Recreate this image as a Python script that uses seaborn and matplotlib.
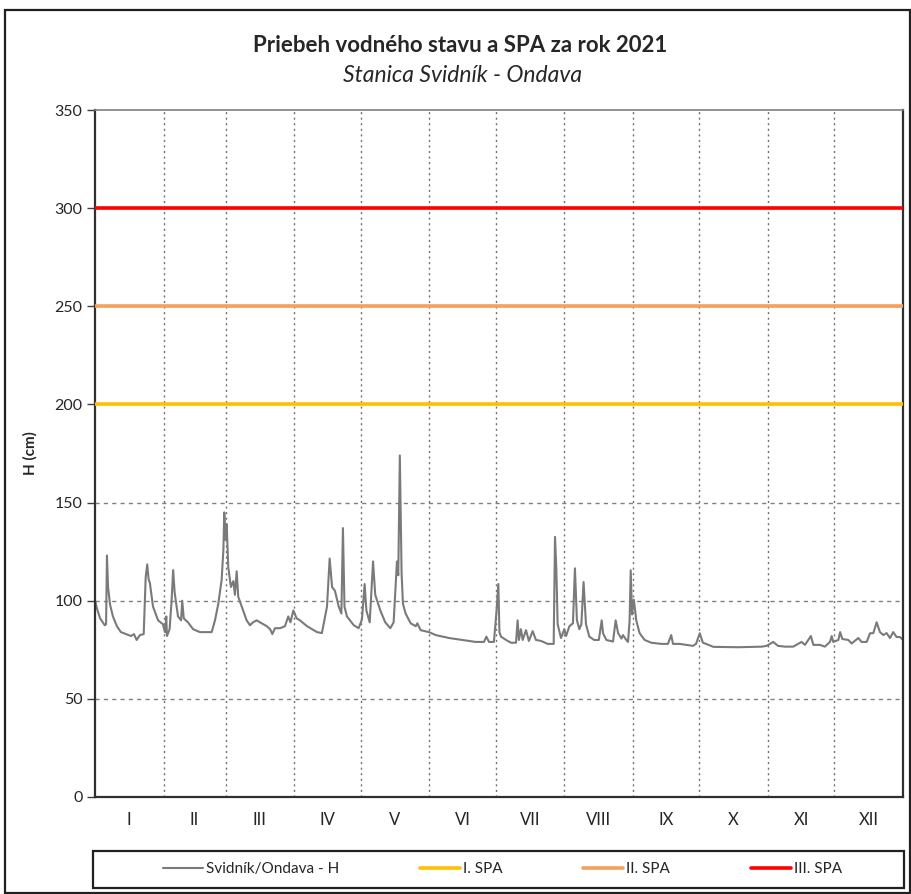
import matplotlib
matplotlib.use("Agg")
import matplotlib.pyplot as plt
import seaborn as sns
import pandas as pd
from matplotlib.patches import Rectangle

# ---- data ----
days = [0, 0.9, 2.3, 4.4, 5.0, 5.4, 5.9, 6.8, 8.1, 9.9, 11.7, 14.0, 16.3, 17.6, 18.8, 20.3,
        22.0, 22.9, 23.6, 24.2, 24.8, 26.2, 28.5, 30.7, 31.6, 32.2, 32.5, 33.7, 34.6, 35.3,
        36.0, 37.5, 38.9, 39.4, 40.1, 42.0, 44.3, 47.4, 52.7, 54.2, 55.7, 57.2, 58.0, 58.4,
        59.0, 59.5, 60.2, 61.4, 62.5, 63.2, 64.0, 64.7, 66.3, 68.5, 70.0, 71.4, 73.0, 75.3,
        77.6, 79.1, 80.1, 81.3, 83.6, 85.8, 87.3, 88.3, 89.6, 91.1, 92.6, 95.8, 100.3, 102.5,
        104.8, 106.0, 107.1, 108.4, 110.1, 111.3, 112.0, 112.7, 113.8, 116.9, 119.1, 120.6,
        121.8, 122.6, 124.1, 125.6, 126.6, 128.9, 131.1, 133.4, 134.9, 136.4, 137.0, 137.7,
        138.5, 139.1, 140.3, 142.6, 144.9, 145.6, 147.1, 150.9, 153.9, 159.9, 165.9, 172.0,
        175.7, 176.8, 178.0, 180.2, 181.3, 182.2, 182.7, 183.4, 185.7, 187.9, 190.2, 190.9,
        191.5, 192.4, 193.2, 194.7, 196.0, 197.7, 199.2, 201.5, 204.5, 207.2, 207.8, 208.4,
        209.0, 210.5, 212.0, 212.8, 214.3, 215.9, 216.8, 217.7, 218.8, 219.7, 220.7, 221.8,
        223.3, 225.5, 227.6, 228.9, 229.5, 231.0, 234.0, 235.2, 236.3, 237.8, 238.5, 240.0,
        240.8, 241.5, 242.0, 242.6, 243.4, 243.9, 244.5, 246.0, 248.3, 251.3, 255.8, 258.8,
        260.3, 261.1, 264.1, 270.1, 271.5, 273.2, 274.6, 275.6, 279.3, 290.6, 301.2, 303.4,
        306.4, 308.5, 311.7, 315.4, 319.2, 320.7, 323.4, 324.5, 327.5, 329.7, 332.0, 332.8,
        333.5, 335.8, 336.6, 337.6, 340.3, 341.8, 344.8, 346.3, 348.6, 350.1, 351.6, 353.1,
        354.6, 356.1, 357.6, 359.1, 360.6, 362.1, 363.6, 365.0]
levels = [100, 96, 91, 87.5, 88, 123, 107, 98, 92, 87, 84, 83, 82, 83, 80, 82.5,
          83, 112, 118.5, 111, 109, 97, 90, 88, 84, 92, 82, 85.5, 100, 115.6,
          104, 92, 90, 100, 91, 89, 85.5, 84, 84, 90, 98.5, 110.5, 126, 145,
          131, 139, 117, 107, 110, 103, 115, 102, 97, 90, 87.5, 89, 90, 88.5,
          87, 85.5, 83, 86, 86, 87, 92, 89, 95, 91, 90, 87, 84, 83.5,
          97, 121.5, 107, 105, 97, 93.5, 137, 97, 92, 87.5, 86, 90.5,
          108.5, 95, 89, 120, 103, 95, 89, 86, 89, 120, 113, 174,
          114, 98.5, 93.5, 88.5, 87, 88.5, 85, 84, 82.5, 81, 80, 79,
          79, 81.7, 79, 79, 93.5, 108.5, 84, 81.7, 80, 78.6, 78.6, 90,
          80, 85.5, 80, 85, 79.5, 84.5, 80, 79.5, 78, 78, 132.5, 116,
          88, 81, 85.5, 82, 87, 88.5, 116.5, 90, 85.5, 88, 109.5, 88,
          81.7, 80, 80, 90, 83.4, 80, 79.2, 90, 83.5, 80.7, 82.5, 80,
          79, 90, 115.5, 93, 100.5, 96, 90, 83.5, 80, 78.6, 78, 78,
          82.5, 78, 78, 77, 78, 83.4, 78.6, 78.2, 76.5, 76.3, 76.6, 77,
          79, 77, 76.6, 76.6, 79, 77.5, 82, 77.5, 77.5, 76.6, 79, 82,
          79, 80, 84, 80.5, 80, 78.2, 81, 79, 79, 83.4, 83.5, 89,
          84, 82.5, 83.5, 81, 84, 81.5, 81.5, 80]

spa_levels = [200, 250, 300]
spa_labels = ["I. SPA", "II. SPA", "III. SPA"]
spa_colors = ["#FFC000", "#F5A05B", "#FF0000"]

month_labels = ["I", "II", "III", "IV", "V", "VI", "VII", "VIII", "IX", "X", "XI", "XII"]
month_days = [31, 28, 31, 30, 31, 30, 31, 31, 30, 31, 30, 31]

title = "Priebeh vodného stavu a SPA za rok 2021"
subtitle = "Stanica Svidník - Ondava"
series_label = "Svidník/Ondava - H"

# ---- plot ----
sns.set_theme(style="white")
plt.rcParams["font.family"] = ["Lato", "DejaVu Sans"]

W, H = 912, 894
fig = plt.figure(figsize=(W / 100, H / 100), dpi=100)
ax = fig.add_axes([95 / W, 1 - 797 / H, (903 - 95) / W, (797 - 110) / H])

df = pd.DataFrame({"day": days, "H": levels})
sns.lineplot(data=df, x="day", y="H", ax=ax, color="#7A7A7A", linewidth=1.5,
             estimator=None, sort=False, label=series_label)

for lvl, lab, col in zip(spa_levels, spa_labels, spa_colors):
    ax.axhline(lvl, color=col, linewidth=2.6, label=lab, zorder=3)

ax.set_xlim(0, 365)
ax.set_ylim(0, 350)

# month boundaries and centers
bounds = [0]
for d in month_days:
    bounds.append(bounds[-1] + d)
centers = [(bounds[i] + bounds[i + 1]) / 2 for i in range(12)]
ax.set_xticks(centers)
ax.set_xticklabels(month_labels, fontsize=12)
ax.set_xticks(bounds[1:-1], minor=True)
ax.tick_params(axis="x", which="both", length=0, pad=11)
ax.grid(False)
ax.xaxis.grid(True, which="minor", linestyle=(0, (1.5, 2.5)), color="#707070", linewidth=1.0)

ax.set_yticks(range(0, 351, 50))
ax.tick_params(axis="y", which="major", length=6, width=1, color="#404040",
               direction="out", labelsize=11.5, pad=3, left=True)
for v in range(50, 350, 50):
    ax.axhline(v, color="#808080", linestyle=(0, (3, 3)), linewidth=1.0, zorder=1)

ax.set_xlabel("")
ax.set_ylabel("H (cm)", fontsize=11, fontweight="bold", labelpad=12)

for side in ["left", "bottom", "right"]:
    ax.spines[side].set_color("#303030")
    ax.spines[side].set_linewidth(1.6)
    ax.spines[side].set_visible(True)
ax.spines["top"].set_color("#808080")
ax.spines["top"].set_linewidth(1.2)
ax.spines["top"].set_visible(True)

fig.text(460 / W, 1 - 46 / H, title, ha="center", va="center", fontsize=16, fontweight="bold")
fig.text(463 / W, 1 - 75 / H, subtitle, ha="center", va="center", fontsize=16.5, style="italic")

handles, labels = ax.get_legend_handles_labels()
ax.get_legend().remove()
leg = fig.legend(handles, labels, loc="center", ncol=4, mode="expand",
                 bbox_to_anchor=(163 / W, 1 - 884 / H, (842 - 163) / W, 30 / H),
                 fontsize=11, frameon=False, handlelength=2.6,
                 handletextpad=0.2, borderaxespad=0, borderpad=0)

fig.patches.append(Rectangle((93 / W, 1 - 888 / H), (904 - 93) / W, 37 / H,
                             transform=fig.transFigure, fill=False,
                             edgecolor="#202020", linewidth=1.6))
fig.patches.append(Rectangle((5 / W, 1 - 893 / H), 905 / W, 883 / H, transform=fig.transFigure,
                             fill=False, edgecolor="#202020", linewidth=1.6))

fig.savefig("out.png", dpi=100)
